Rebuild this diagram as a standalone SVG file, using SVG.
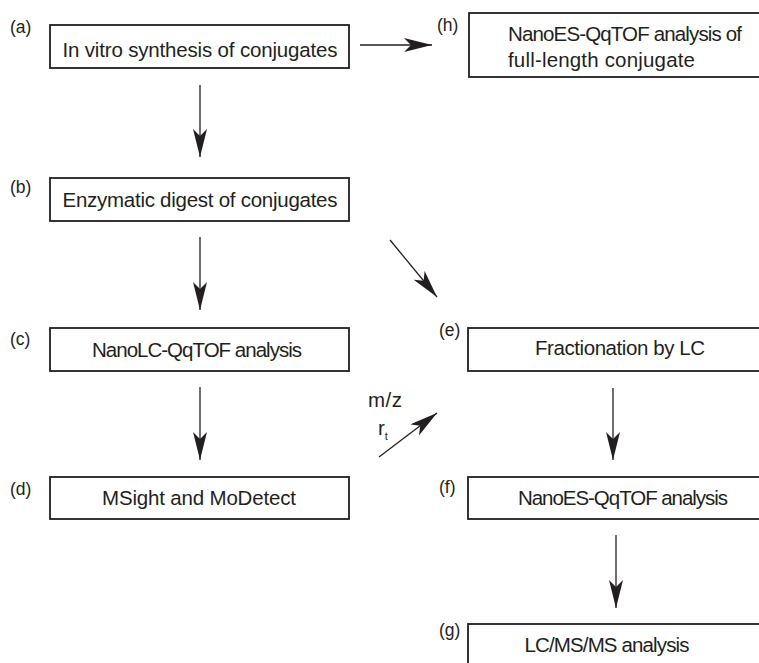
<svg xmlns="http://www.w3.org/2000/svg" width="759" height="663" viewBox="0 0 759 663">
<style>
.box{fill:#fff;stroke:#231f20;stroke-width:1.8}
.t{font-family:"Liberation Sans",Arial,sans-serif;font-size:20.5px;fill:#231f20}
.c{text-anchor:middle}
.lbl{font-family:"Liberation Sans",Arial,sans-serif;font-size:17.5px;fill:#231f20}
.arr{stroke:#231f20;stroke-width:1.3;fill:none;marker-end:url(#ah)}
</style>
<defs>
<marker id="ah" markerUnits="userSpaceOnUse" markerWidth="28" markerHeight="14" viewBox="0 0 28 14" refX="28" refY="7" orient="auto">
<path d="M28,7 L0,0 L7,7 L0,14 Z" fill="#231f20"/>
</marker>
</defs>
<rect width="759" height="663" fill="#fff"/>
<g id="connectors">
<line class="arr" x1="360" y1="45" x2="432" y2="45"/>
<line class="arr" x1="200" y1="85" x2="200" y2="157"/>
<line class="arr" x1="200" y1="237" x2="200" y2="310"/>
<line class="arr" x1="390" y1="240" x2="437" y2="297"/>
<line class="arr" x1="200" y1="387" x2="200" y2="460"/>
<line class="arr" x1="379" y1="457" x2="437" y2="413"/>
<line class="arr" x1="613" y1="388" x2="613" y2="460"/>
<line class="arr" x1="616" y1="535" x2="616" y2="608"/>
<text class="t" x="368" y="407" textLength="34">m/z</text>
<text class="t" x="378" y="435">r<tspan font-size="11" dy="5">t</tspan></text>
</g>
<g id="node-a">
<text class="lbl" x="10" y="33">(a)</text>
<rect class="box" x="50" y="25" width="299" height="43"/>
<text class="t c" x="200" y="57" textLength="275">In vitro synthesis of conjugates</text>
</g>
<g id="node-h">
<text class="lbl" x="437" y="31">(h)</text>
<rect class="box" x="469" y="13" width="300" height="64"/>
<text class="t" x="508" y="41" textLength="234">NanoES-QqTOF analysis of</text>
<text class="t" x="508" y="67" textLength="187">full-length conjugate</text>
</g>
<g id="node-b">
<text class="lbl" x="10" y="193">(b)</text>
<rect class="box" x="50" y="178" width="299" height="43"/>
<text class="t c" x="200" y="207" textLength="275">Enzymatic digest of conjugates</text>
</g>
<g id="node-c">
<text class="lbl" x="10" y="345">(c)</text>
<rect class="box" x="50" y="328" width="299" height="43"/>
<text class="t c" x="197" y="357" textLength="210">NanoLC-QqTOF analysis</text>
</g>
<g id="node-d">
<text class="lbl" x="10" y="495">(d)</text>
<rect class="box" x="50" y="477" width="299" height="42"/>
<text class="t c" x="199" y="505" textLength="194">MSight and MoDetect</text>
</g>
<g id="node-e">
<text class="lbl" x="439" y="336">(e)</text>
<rect class="box" x="468" y="328" width="300" height="43"/>
<text class="t c" x="620" y="355" textLength="170">Fractionation by LC</text>
</g>
<g id="node-f">
<text class="lbl" x="439" y="493">(f)</text>
<rect class="box" x="468" y="477" width="300" height="42"/>
<text class="t c" x="623" y="505" textLength="210">NanoES-QqTOF analysis</text>
</g>
<g id="node-g">
<text class="lbl" x="439" y="636">(g)</text>
<rect class="box" x="468" y="624" width="300" height="60"/>
<text class="t c" x="607" y="652" textLength="165">LC/MS/MS analysis</text>
</g>
</svg>
